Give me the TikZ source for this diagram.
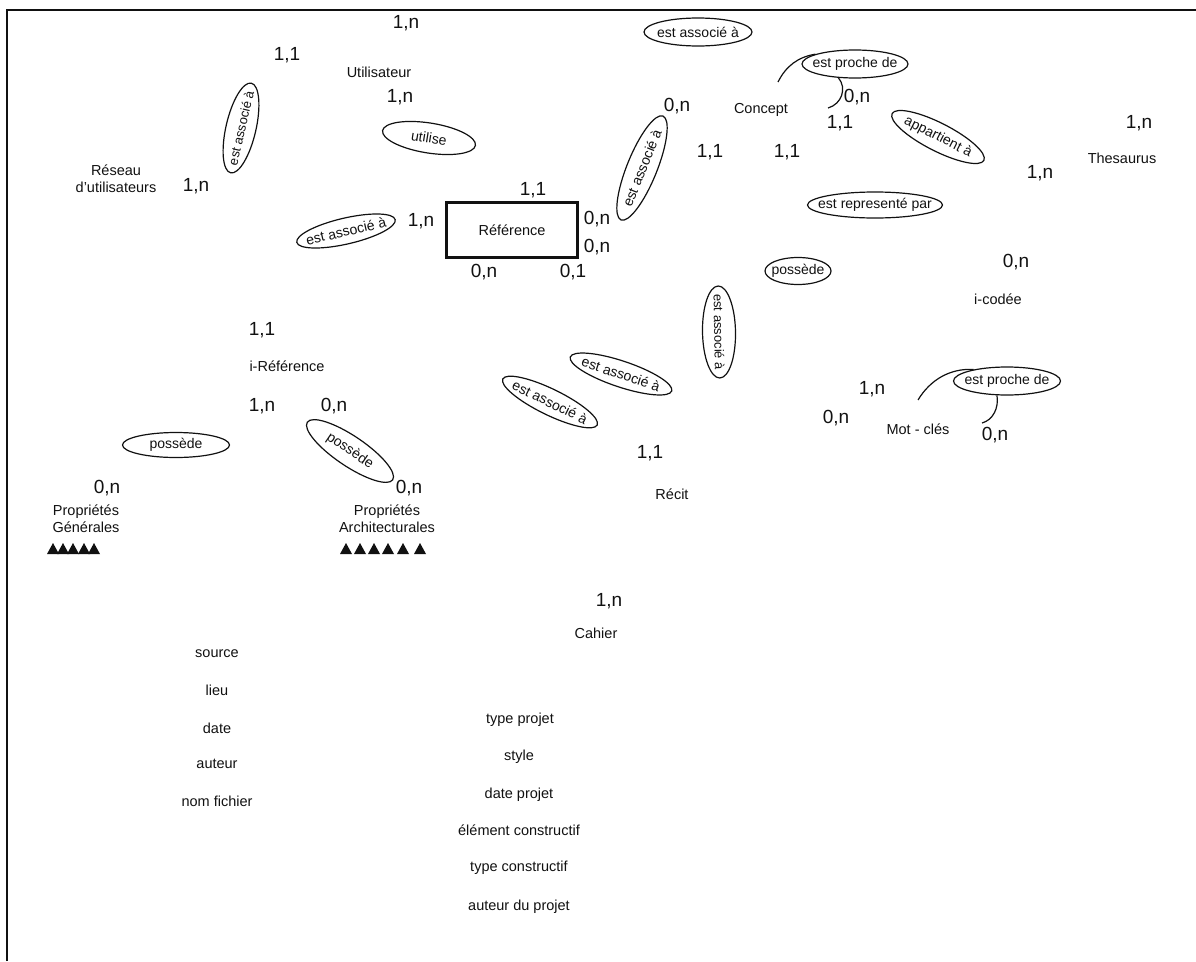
\documentclass[tikz,border=0pt]{standalone}
\usepackage{fontspec}
\setmainfont{Liberation Sans}
\usetikzlibrary{shapes.geometric}
\definecolor{ink}{HTML}{111111}
\tikzset{
  ent/.style={font=\fontsize{14.5}{17}\selectfont,align=center,inner sep=0pt,ink},
  card/.style={font=\fontsize{19}{21}\selectfont,inner sep=0pt,ink},
  rel/.style 2 args={ellipse,draw=ink,line width=1.2pt,inner sep=-40pt,minimum width=#1,minimum height=#2,font=\fontsize{14}{16}\selectfont,text=ink},
  link/.style={line width=1.2pt,ink},
  entbox/.style={draw=ink,line width=3pt,minimum width=131,minimum height=55}
}
\begin{document}
\begin{tikzpicture}[x=1pt,y=-1pt]
\useasboundingbox (0,0) rectangle (1196,961);
\draw[line width=2pt,ink] (7,961) -- (7,10) -- (1196,10);
\node[ent] (user) at (379,72) {Utilisateur};
\node[ent] (reseau) at (116,179) {Réseau\\d'utilisateurs};
\node[ent] (concept) at (761,110) {Concept};
\node[ent] (thes) at (1122,158) {Thesaurus};
\node[ent,entbox] (ref) at (512,230) {Référence};
\node[ent] (icod) at (998,299) {i-codée};
\node[ent] (iref) at (287,366) {i-Référence};
\node[ent] (mot) at (918,429) {Mot - clés};
\node[ent] (recit) at (672,494) {Récit};
\node[ent] (pgen) at (86,519) {Propriétés\\Générales};
\node[ent] (parch) at (387,519) {Propriétés\\Architecturales};
\node[ent] (cahier) at (596,633) {Cahier};
\node[ent] (src) at (217,654) {source};
\node[ent] (lieu) at (217,690) {lieu};
\node[ent] (date) at (217,728) {date};
\node[ent] (aut) at (217,764) {auteur};
\node[ent] (nomf) at (217,801) {nom fichier};
\node[ent] (tproj) at (520,720) {type projet};
\node[ent] (sty) at (519,757) {style};
\node[ent] (dproj) at (519,795) {date projet};
\node[ent] (elem) at (519,830) {élément constructif};
\node[ent] (tcons) at (519,868) {type constructif};
\node[ent] (aproj) at (519,907) {auteur du projet};

\node[rel={108}{28}] (a1) at (698,32) {est associé à};
\node[rel={92}{30},rotate=77,font=\fontsize{13}{15}\selectfont] (a2) at (241,128) {est associé à};
\node[rel={101}{26},rotate=13] (a3) at (346,231) {est associé à};
\node[rel={112}{30},rotate=68] (a4) at (642,168) {est associé à};
\node[rel={92}{33},rotate=-89,font=\fontsize{13}{15}\selectfont] (a5) at (719,332) {est associé à};
\node[rel={107}{26},rotate=-18.5] (a6) at (621,374) {est associé à};
\node[rel={105}{26},rotate=-26] (a7) at (550,402) {est associé à};
\node[rel={94}{30},rotate=-9] (uti) at (429,138) {utilise};
\node[rel={106}{28}] (pr1) at (855,64) {est proche de};
\node[rel={107}{28}] (pr2) at (1007,381) {est proche de};
\node[rel={103}{28},rotate=-27] (app) at (938,137) {appartient à};
\node[rel={135}{26}] (rep) at (875,205) {est representé par};
\node[rel={66}{27}] (pos1) at (798,271) {possède};
\node[rel={107}{25}] (pos2) at (176,445) {possède};
\node[rel={103}{30},rotate=-34] (pos3) at (350,451) {possède};

\node[card] (c1) at (406,23) {1,n};
\node[card] (c2) at (287,55) {1,1};
\node[card] (c3) at (400,97) {1,n};
\node[card] (c4) at (196,186) {1,n};
\node[card] (c5) at (421,221) {1,n};
\node[card] (c6) at (533,190) {1,1};
\node[card] (c7) at (597,219) {0,n};
\node[card] (c8) at (597,247) {0,n};
\node[card] (c9) at (484,272) {0,n};
\node[card] (c10) at (573,272) {0,1};
\node[card] (c11) at (677,106) {0,n};
\node[card] (c12) at (710,152) {1,1};
\node[card] (c13) at (787,152) {1,1};
\node[card] (c14) at (857,97) {0,n};
\node[card] (c15) at (840,123) {1,1};
\node[card] (c16) at (1139,123) {1,n};
\node[card] (c17) at (1040,173) {1,n};
\node[card] (c18) at (1016,262) {0,n};
\node[card] (c19) at (262,330) {1,1};
\node[card] (c20) at (262,406) {1,n};
\node[card] (c21) at (334,406) {0,n};
\node[card] (c22) at (107,488) {0,n};
\node[card] (c23) at (409,488) {0,n};
\node[card] (c24) at (872,389) {1,n};
\node[card] (c25) at (836,418) {0,n};
\node[card] (c26) at (995,435) {0,n};
\node[card] (c27) at (650,453) {1,1};
\node[card] (c28) at (609,601) {1,n};

\coordinate (k1) at (778,82);
\coordinate (k2) at (828,108);
\coordinate (k3) at (918,400);
\coordinate (k4) at (982,423);
\draw[link] (k1) .. controls (786,66) and (798,57) .. (pr1.166);
\draw[link] (pr1.-140) .. controls (847,88) and (842,104) .. (k2);
\draw[link] (k3) .. controls (930,380) and (950,368) .. (pr2.161);
\draw[link] (pr2.-125) .. controls (999,408) and (993,420) .. (k4);

\foreach \x in {53,63,73,84,94}
  \fill[ink] (\x-6,554) -- (\x+6,554) -- (\x,543) -- cycle;
\foreach \x in {346,360,374,388,403,420}
  \fill[ink] (\x-6,554) -- (\x+6,554) -- (\x,543) -- cycle;
\end{tikzpicture}
\end{document}
